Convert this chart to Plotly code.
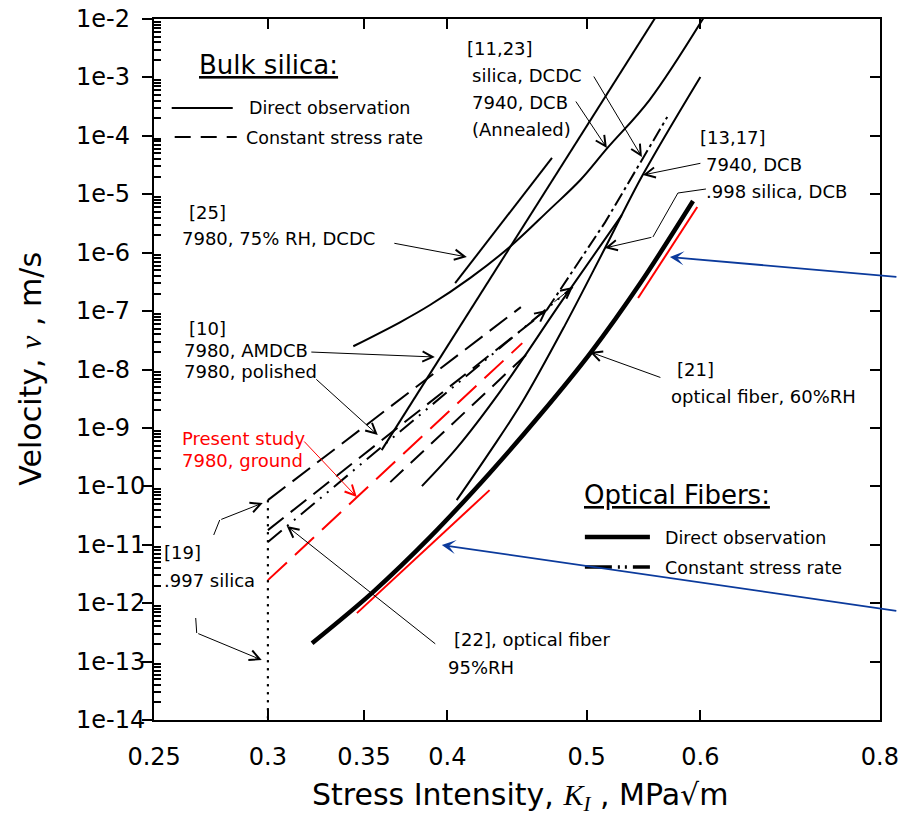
import math
import plotly.graph_objects as go

# ---------------- data (K_I in MPa*sqrt(m), v in m/s) ----------------
annealed_K = [0.344, 0.371, 0.389, 0.415, 0.442, 0.471, 0.495, 0.517, 0.553, 0.606]
annealed_v = [2.5e-8, 6.5e-8, 1.27e-7, 3.7e-7, 1.25e-6, 5.4e-6, 1.75e-5, 6.2e-5, 4.1e-4, 1.27e-2]
silica_dcdc_K = [0.360, 0.562]
silica_dcdc_v = [4.17e-10, 1.37e-2]
ref25_K = [0.405, 0.473]
ref25_v = [3.0e-7, 4.2e-5]
dcb7940_K = [0.406, 0.428, 0.451, 0.483, 0.515, 0.547, 0.600]
dcb7940_v = [5.8e-11, 3.85e-10, 2.77e-9, 5.75e-8, 1.2e-6, 2.13e-5, 1.02e-3]
dcb998_K = [0.384, 0.406, 0.435, 0.481, 0.529]
dcb998_v = [1.01e-10, 4.5e-10, 4.1e-9, 1.54e-7, 4.4e-6]
csr_dcdc_K = [0.469, 0.515, 0.569]
csr_dcdc_v = [1.04e-7, 3.3e-6, 2.1e-4]
csr997_K = [0.30, 0.450]
csr997_v = [5.8e-11, 1.17e-7]
csr_amdcb_K = [0.30, 0.469]
csr_amdcb_v = [1.78e-11, 1.04e-7]
fiber22_K = [0.30, 0.489]
fiber22_v = [1.11e-11, 2.58e-7]
present_K = [0.30, 0.451]
present_v = [2.48e-12, 2.83e-8]
polished_K = [0.365, 0.459]
polished_v = [1.18e-10, 2.32e-8]
fiber21_K = [0.322, 0.355, 0.389, 0.428, 0.464, 0.503, 0.545, 0.593]
fiber21_v = [2.07e-13, 1.55e-12, 1.35e-11, 1.68e-10, 1.66e-9, 1.91e-8, 3.02e-7, 7.66e-6]
fit_hi_K = [0.543, 0.597]
fit_hi_v = [1.67e-7, 6.04e-6]
fit_lo_K = [0.346, 0.428]
fit_lo_v = [6.75e-13, 8.61e-11]
limit_K = [0.30, 0.30]
limit_v = [5.8e-11, 1e-14]

x_tickvals = [0.25, 0.3, 0.35, 0.4, 0.5, 0.6, 0.8]
x_ticktext = ["0.25", "0.3", "0.35", "0.4", "0.5", "0.6", "0.8"]
y_exps = list(range(-2, -15, -1))
y_tickvals = [10.0 ** e for e in y_exps]
y_ticktext = ["1e%d" % e for e in y_exps]

FONT = "DejaVu Sans"
SERIF = "Liberation Serif"
BLUE = "#0b3a9c"

# ---------------- figure ----------------
fig = go.Figure()


def add_line(K, v, color="black", width=2, dash="solid", shape="linear", axis="y"):
    fig.add_trace(go.Scatter(x=K, y=v, mode="lines", showlegend=False, hoverinfo="skip",
                             yaxis=axis,
                             line=dict(color=color, width=width, dash=dash, shape=shape)))


add_line(annealed_K, annealed_v, shape="spline")
add_line(silica_dcdc_K, silica_dcdc_v)
add_line(ref25_K, ref25_v)
add_line(dcb7940_K, dcb7940_v, shape="spline")
add_line(dcb998_K, dcb998_v, shape="spline")
add_line(csr_dcdc_K, csr_dcdc_v, dash="14px,4px,3px,4px")
add_line(csr997_K, csr997_v, dash="22px,9px")
add_line(csr_amdcb_K, csr_amdcb_v, dash="20px,9px")
add_line(fiber22_K, fiber22_v, dash="18px,7px,2px,7px,2px,7px")
add_line(polished_K, polished_v, dash="18px,10px")
add_line(present_K, present_v, color="red", dash="26px,11px")
add_line(fiber21_K, fiber21_v, width=4.5, shape="spline")
add_line(fit_hi_K, fit_hi_v, color="red")
add_line(fit_lo_K, fit_lo_v, color="red")
add_line(limit_K, limit_v, dash="2px,6px")
# same dotted limit line also attached to the right-hand axis so that axis is drawn
add_line(limit_K, limit_v, dash="2px,6px", axis="y2")

# plot-area pixel frame (for decorations / labels)
X0, X1, Y0, Y1 = 154.3, 880.0, 19.0, 720.0


def px(x):
    return (x - X0) / (X1 - X0)


def py(y):
    return (Y1 - y) / (Y1 - Y0)


annotations = []
LAB = 18


def T(x, y, s, size=LAB, color="black", anchor="left"):
    annotations.append(dict(x=px(x), y=py(y), xref="paper", yref="paper", text=s, showarrow=False,
                            xanchor=anchor, yanchor="middle",
                            font=dict(family=FONT, size=size, color=color)))


def A(tx, ty, hx, hy, color="black", width=1, head=5, size=2.0):
    annotations.append(dict(x=px(hx), y=py(hy), xref="paper", yref="paper",
                            ax=tx - hx, ay=ty - hy, axref="pixel", ayref="pixel",
                            text="", showarrow=True, arrowhead=head, arrowsize=size,
                            arrowwidth=width, arrowcolor=color, standoff=0, startstandoff=0))


# y tick labels (left aligned like the original)
for v, lab in zip(y_tickvals, y_ticktext):
    annotations.append(dict(x=px(74), y=math.log10(v), xref="paper", yref="y", text=lab,
                            showarrow=False, xanchor="left", yanchor="middle",
                            font=dict(family=FONT, size=24, color="black")))

# axis titles
annotations.append(dict(x=px(520), y=py(796), xref="paper", yref="paper", showarrow=False,
                        xanchor="center", yanchor="middle",
                        text="Stress Intensity, <span style='font-family:%s'><i>K<sub>I</sub></i></span> , MPa√m" % SERIF,
                        font=dict(family=FONT, size=30, color="black")))
annotations.append(dict(x=px(30), y=py(369), xref="paper", yref="paper", showarrow=False,
                        xanchor="center", yanchor="middle", textangle=-90,
                        text="Velocity, <span style='font-family:%s'><i>ν</i></span> , m/s" % SERIF,
                        font=dict(family=FONT, size=30, color="black")))

# legends
T(197, 65, "<u>Bulk silica:</u>", size=26)
T(247, 108, "Direct observation", size=17.5)
T(244, 138, "Constant stress rate", size=17.5)
T(582, 495, "<u>Optical Fibers:</u>", size=26)
T(663, 538, "Direct observation", size=17.5)
T(663, 568, "Constant stress rate", size=17.5)

# labels
T(187, 212, "[25]")
T(180, 239, "7980, 75% RH, DCDC")
T(187, 328, "[10]")
T(182, 350, "7980, AMDCB")
T(182, 371, "7980, polished")
T(180, 438, "Present study", color="red")
T(180, 460, "7980, ground", color="red")
T(465, 48, "[11,23]")
T(470, 75, "silica, DCDC")
T(470, 103, "7940, DCB")
T(470, 130, "(Annealed)")
T(698, 137, "[13,17]")
T(704, 164, "7940, DCB")
T(704, 191, ".998 silica, DCB")
T(675, 370, "[21]")
T(669, 397, "optical fiber, 60%RH")
T(162, 552, "[19]")
T(162, 580, ".997 silica")
T(452, 639, "[22], optical fiber")
T(446, 667, "95%RH")

# arrows
A(393, 243, 467, 257)
A(310, 352, 435, 357)
A(315, 378, 378, 435)
A(303, 440, 357, 497, color="red")
A(593, 75, 642, 157)
A(575, 100, 607, 148)
A(702, 163, 643, 175)
A(653, 237, 605, 248)
A(662, 378, 590, 352)
A(220, 520, 263, 503)
A(197, 633, 262, 660)
A(437, 645, 287, 526)
A(524, 328, 547, 310)
A(553, 303, 573, 287)
A(898, 277, 670, 257, color=BLUE, width=1.8, head=3, size=1.3)
A(898, 611, 442, 545, color=BLUE, width=1.8, head=3, size=1.3)

shapes = []


def seg_path(points, width=1, color="black"):
    d = "M " + " L ".join("%f,%f" % (px(a), py(b)) for a, b in points)
    shapes.append(dict(type="path", xref="paper", yref="paper", path=d,
                       line=dict(color=color, width=width)))


def key(x0, x1, y, width, dash="solid"):
    shapes.append(dict(type="line", xref="paper", yref="paper", x0=px(x0), x1=px(x1),
                       y0=py(y), y1=py(y), line=dict(color="black", width=width, dash=dash)))


seg_path([(706, 189), (678, 193), (653, 237)])
seg_path([(214, 535), (220, 520)])
seg_path([(196, 618), (197, 633)])
key(172, 233, 108, 2)
key(175, 237, 137, 2, "16px,10px")
key(585, 650, 537, 4.5)
key(585, 650, 567, 3.5, "27px,6px,2px,5px,2px,6px")

minor_vals = [k * 10.0 ** e for e in range(-14, -2) for k in range(2, 10)]
xr = [math.log10(0.25) - 1e-4, math.log10(0.8) + 1e-4]

fig.update_layout(
    width=898, height=817, autosize=False,
    margin=dict(l=154, r=18, t=19, b=97, autoexpand=False),
    paper_bgcolor="white", plot_bgcolor="white",
    showlegend=False,
    font=dict(family=FONT, color="black"),
    annotations=annotations, shapes=shapes,
    xaxis=dict(type="log", range=xr, automargin=False,
               tickmode="array", tickvals=x_tickvals, ticktext=x_ticktext,
               ticks="inside", ticklen=10, tickwidth=2, tickcolor="black",
               showline=True, linewidth=2, linecolor="black", mirror="ticks",
               showgrid=False, zeroline=False, ticklabelstandoff=14,
               ticklabeloverflow="allow",
               tickfont=dict(family=FONT, size=24, color="black")),
    yaxis=dict(type="log", range=[-14, -2], tickmode="array", tickvals=y_tickvals,
               automargin=False,
               showticklabels=False, ticks="outside", ticklen=10, tickwidth=2, tickcolor="black",
               showline=True, linewidth=2, linecolor="black", mirror=False,
               showgrid=False, zeroline=False,
               minor=dict(tickmode="array", tickvals=minor_vals, ticks="inside", ticklen=7,
                          tickwidth=1.5, tickcolor="black", showgrid=False)),
    yaxis2=dict(type="log", range=[-14, -2], overlaying="y", side="right", automargin=False,
                tickmode="array", tickvals=y_tickvals, showticklabels=False,
                ticks="inside", ticklen=10, tickwidth=2, tickcolor="black",
                showline=True, linewidth=2, linecolor="black", showgrid=False, zeroline=False),
)

fig.write_html("out.html")
